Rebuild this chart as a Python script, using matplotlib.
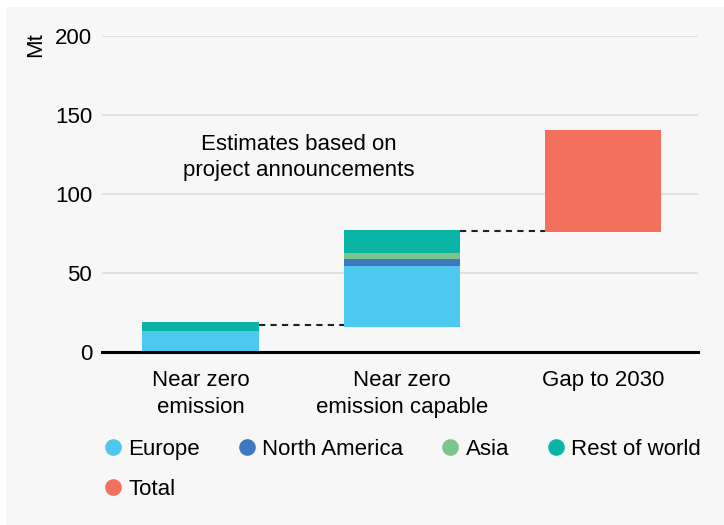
import matplotlib.pyplot as plt
from matplotlib.lines import Line2D
from matplotlib.patches import Rectangle

plt.rcParams['font.family'] = ['Liberation Sans', 'DejaVu Sans']

# --- data ---
categories = ['Near zero\nemission', 'Near zero\nemission capable', 'Gap to 2030']
bases = [0.0, 16.1, 76.2]
europe = [13.7, 38.5, 0.0]
north_america = [0.0, 4.6, 0.0]
asia = [0.0, 3.4, 0.0]
rest_of_world = [5.1, 14.9, 0.0]
total = [0.0, 0.0, 64.3]
connectors = [17.1, 76.6]  # dashed link levels between bars

series = [
    ('Europe', europe, '#4DC9F0'),
    ('North America', north_america, '#3F78BE'),
    ('Asia', asia, '#7BC68D'),
    ('Rest of world', rest_of_world, '#0BB5A5'),
    ('Total', total, '#F2705C'),
]

bg = '#F7F7F7'
fs = 16
fig = plt.figure(figsize=(7.24, 5.25), dpi=100, facecolor='white')
fig.patches.append(Rectangle((6 / 724, 0), 1, 1 - 7 / 525, transform=fig.transFigure,
                             facecolor=bg, edgecolor='none', zorder=-10))
ax = fig.add_axes([0.1409, 0.3291, 0.8228, 0.6023])
ax.set_facecolor(bg)

x = list(range(len(categories)))
width = 0.578
bottom = list(bases)
for name, vals, color in series:
    ax.bar(x, vals, width, bottom=bottom, color=color, edgecolor='none', zorder=3)
    bottom = [b + v for b, v in zip(bottom, vals)]

# dashed connectors between neighbouring bars
for i, level in enumerate(connectors):
    ax.plot([x[i] + width / 2, x[i + 1] - width / 2], [level, level],
            color='#222222', linestyle=(0, (3, 2.5)), linewidth=1.5, zorder=4)

ax.set_xlim(-0.49, 2.47)
ax.set_ylim(0, 200)
ax.set_yticks([0, 50, 100, 150, 200])
ax.set_xticks(x)
ax.set_xticklabels(categories, fontsize=fs, linespacing=1.35)
ax.tick_params(axis='y', length=0, labelsize=fs, pad=7)
ax.tick_params(axis='x', length=0, pad=13)
ax.grid(axis='y', color='#DDDDDD', linewidth=1.2, zorder=0)
for s in ['top', 'right', 'left']:
    ax.spines[s].set_visible(False)
ax.spines['bottom'].set_linewidth(2.2)
ax.spines['bottom'].set_color('black')
ax.spines['bottom'].set_zorder(5)

ax.text(-0.112, 0.972, 'Mt', rotation=90, fontsize=fs, ha='center', va='center',
        transform=ax.transAxes, clip_on=False)
ax.text(0.49, 123, 'Estimates based on\nproject announcements', fontsize=fs,
        ha='center', va='center', linespacing=1.3, zorder=6)

handles = {n: Line2D([0], [0], marker='o', linestyle='none', markersize=12,
                     markerfacecolor=c, markeredgecolor='none', label=n)
           for n, _, c in series}
# legend fills column-wise, so order gives rows: Europe, NA, Asia, RoW / Total
order = ['Europe', 'Total', 'North America', 'Asia', 'Rest of world']
fig.legend(handles=[handles[n] for n in order], ncol=4, loc='upper left',
           bbox_to_anchor=(0.125, 0.181), frameon=False, fontsize=fs,
           handletextpad=0.1, columnspacing=1.5, handlelength=1.2,
           labelspacing=0.85, borderaxespad=0)

fig.savefig('out.png', dpi=100, facecolor='white')
